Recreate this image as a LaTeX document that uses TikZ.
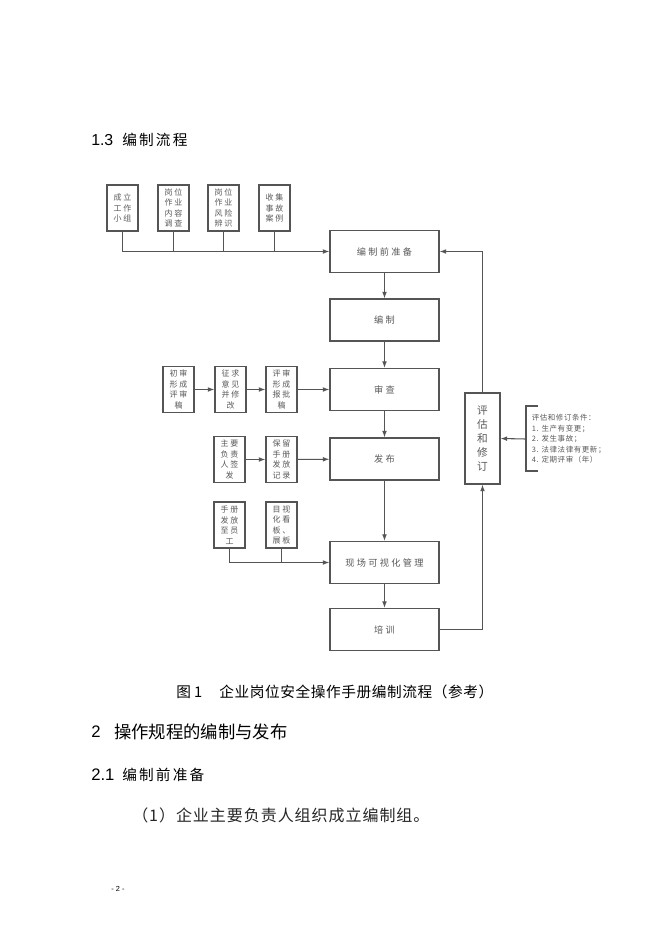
\documentclass[tikz,border=0pt]{standalone}
\usepackage{fontspec}
\setmainfont{Liberation Sans}
\newfontfamily\cjk{Noto Sans CJK SC}
\newfontfamily\cjkS[LetterSpace=20]{Noto Sans CJK SC}
\newfontfamily\cjkM[LetterSpace=25]{Noto Sans CJK SC}
\newfontfamily\cjkH[LetterSpace=15]{Noto Sans CJK SC}
\newfontfamily\cjkB[LetterSpace=6]{Noto Sans CJK SC}
\newfontfamily\cjkC[LetterSpace=4]{Noto Sans CJK SC}
\newfontfamily\cjkT[LetterSpace=8]{Noto Sans CJK SC}
\usetikzlibrary{arrows.meta}
\definecolor{lg}{HTML}{555555}
\definecolor{tg}{HTML}{5A5A5A}
\tikzset{
  sbox/.style={draw=lg, line width=0.8pt, inner sep=0pt, minimum width=23.25pt, minimum height=34.5pt, align=center, text=tg, font=\cjkS\fontsize{6pt}{7.9pt}\selectfont},
  mbox/.style={draw=lg, line width=0.8pt, inner sep=0pt, minimum width=81.75pt, minimum height=31.5pt, text=tg, font=\cjkM\fontsize{6.9pt}{8pt}\selectfont},
  ebox/.style={draw=lg, line width=0.8pt, inner sep=0pt, minimum width=26.25pt, minimum height=68.25pt, align=center, text=tg, font=\cjk\fontsize{8pt}{10.5pt}\selectfont},
  cond/.style={inner sep=0pt, align=left, text=tg, font=\cjkT\fontsize{5.6pt}{7.9pt}\selectfont},
  line/.style={draw=lg, line width=0.8pt},
  arr/.style={line, -{Latex[length=5pt,width=3.6pt]}},
  plain/.style={inner sep=0pt, text=black},
}
\begin{document}
\begin{tikzpicture}[x=0.75pt,y=-0.75pt]
\path[use as bounding box, fill=white] (0,0) rectangle (672,933);

% page texts
\node[plain, anchor=west, font=\fontsize{11.9pt}{14pt}\selectfont] (h13) at (91,140) {1.3};
\node[plain, anchor=west, font=\cjkH\fontsize{11pt}{14pt}\selectfont] (h13t) at (122,140) {编制流程};

% top row
\node[sbox] (t1) at (122.5,208) {成立\\工作\\小组};
\node[sbox] (t2) at (173.5,208) {岗位\\作业\\内容\\调查};
\node[sbox] (t3) at (223.5,208) {岗位\\作业\\风险\\辨识};
\node[sbox] (t4) at (274.5,208) {收集\\事故\\案例};

% main column
\node[mbox] (m1) at (384.5,251.5) {编制前准备};
\node[mbox] (m2) at (384.5,320) {编制};
\node[mbox] (m3) at (384.5,389.5) {审查};
\node[mbox] (m4) at (384.5,459) {发布};
\node[mbox] (m5) at (384.5,562.5) {现场可视化管理};
\node[mbox] (m6) at (384.5,629.5) {培训};

% review row
\node[sbox] (a) at (178.5,389.5) {初审\\形成\\评审\\稿};
\node[sbox] (b) at (230.5,389.5) {征求\\意见\\并修\\改};
\node[sbox] (c) at (281.5,389.5) {评审\\形成\\报批\\稿};

% publish row
\node[sbox] (d) at (229.5,459.5) {主要\\负责\\人签\\发};
\node[sbox] (e) at (281.5,459.5) {保留\\手册\\发放\\记录};

% visual row
\node[sbox] (f) at (229.5,525) {手册\\发放\\至员\\工};
\node[sbox] (g) at (281.5,525) {目视\\化看\\板、\\展板};

% evaluation
\node[ebox] (ev) at (482.5,438.5) {评\\估\\和\\修\\订};
\node[cond, anchor=west] (cd) at (531.5,439) {评估和修订条件：\\1. 生产有变更；\\2. 发生事故；\\3. 法律法律有更新；\\4. 定期评审（年）};
\coordinate (bt) at (538,406);
\coordinate (bb) at (538,471);
\coordinate (bm) at (526,439);

% connectors: top row
\draw[arr] (t1.south) |- (m1.west);
\draw[line] (t2.south) -- (t2.south |- m1.west);
\draw[line] (t3.south) -- (t3.south |- m1.west);
\draw[line] (t4.south) -- (t4.south |- m1.west);

% main column
\draw[arr] (m1) -- (m2);
\draw[arr] (m2) -- (m3);
\draw[arr] (m3) -- (m4);
\draw[arr] (m4) -- (m5);
\draw[arr] (m5) -- (m6);

% rows
\draw[arr] (a) -- (b);
\draw[arr] (b) -- (c);
\draw[arr] (c) -- (m3);
\draw[arr] (d) -- (e);
\draw[arr] (e) -- (m4);
\draw[arr] (f.south) |- (m5.west);
\draw[line] (g.south) -- (g.south |- m5.west);

% feedback
\draw[arr] (m6.east) -| (ev.south);
\draw[arr] (ev.north) |- (m1.east);
\draw[line] (bt) -- (bt -| bm) -- (bb -| bm) -- (bb);
\draw[arr] (bm) -- (ev.east);

% caption and following text
\node[plain, anchor=west, font=\cjk\fontsize{11pt}{13pt}\selectfont] (cap1) at (176,692) {图 1};
\node[plain, anchor=west, font=\cjkC\fontsize{11pt}{13pt}\selectfont] (cap2) at (219,692) {企业岗位安全操作手册编制流程（参考）};
\node[plain, anchor=west, font=\fontsize{12.5pt}{15pt}\selectfont] (s2n) at (91,732) {2};
\node[plain, anchor=west, font=\cjk\fontsize{13pt}{15pt}\selectfont] (s2t) at (114,732) {操作规程的编制与发布};
\node[plain, anchor=west, font=\fontsize{12.5pt}{15pt}\selectfont] (s21n) at (91,775) {2.1};
\node[plain, anchor=west, font=\cjkH\fontsize{11pt}{14pt}\selectfont] (s21t) at (122,775) {编制前准备};
\node[plain, anchor=west, font=\cjkB\fontsize{12pt}{14pt}\selectfont, text=black!85] (p1) at (132,815) {（1）企业主要负责人组织成立编制组。};
\node[plain, font=\fontsize{5.5pt}{7pt}\selectfont] (pg) at (118,889) {- 2 -};
\end{tikzpicture}
\end{document}
